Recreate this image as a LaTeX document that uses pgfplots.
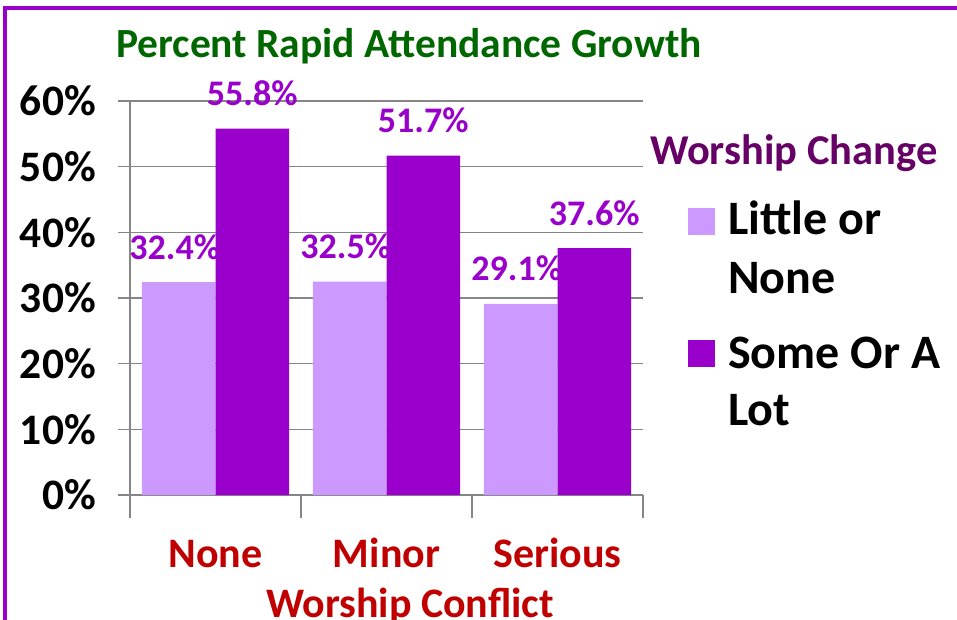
\documentclass[border=0pt]{standalone}
\usepackage{fontspec}
\setmainfont{Carlito}
\usepackage{pgfplots}
\pgfplotsset{compat=1.18}
\definecolor{lightbar}{RGB}{204,153,255}
\definecolor{darkbar}{RGB}{153,0,204}
\definecolor{titlegreen}{RGB}{0,102,0}
\definecolor{catred}{RGB}{192,0,0}
\definecolor{legpurple}{RGB}{102,0,102}
\definecolor{axisgray}{RGB}{134,134,134}

\begin{document}
\begin{tikzpicture}[x=1pt,y=1pt]
\useasboundingbox (0,0) rectangle (957,619);
% frame, cut off at right and bottom
\draw[darkbar, line width=4pt] (5,-10) -- (5,611) -- (975,611);
\node[anchor=base, inner sep=0, font=\fontsize{41.5}{48}\selectfont\bfseries, text=titlegreen]
  at (409,561) {Percent Rapid Attendance Growth};

\begin{axis}[
    at={(130pt,124pt)}, anchor=south west,
    scale only axis, width=513pt, height=394pt,
    xmin=0, xmax=3, ymin=0, ymax=60,
    ybar, bar width=0.43,
    clip=false,
    xtick={0.5,1.5,2.5},
    xticklabels={None,Minor,Serious},
    minor xtick={0,1,2,3},
    major x tick style={draw=none},
    ytick={0,10,...,60},
    yticklabel={\pgfmathprintnumber{\tick}\%},
    /pgf/number format/assume math mode=true,
    ymajorgrids,
    grid style={axisgray, line width=1.5pt},
    axis lines*=left,
    axis line style={axisgray, line width=1.5pt},
    tick style={axisgray, line width=1.5pt},
    tick align=outside,
    major tick length=12pt,
    minor tick length=23pt,
    yticklabel style={font=\fontsize{43.5}{50}\selectfont\bfseries, inner sep=0pt, anchor=east, xshift=-22pt},
    xticklabel style={font=\fontsize{42}{50}\selectfont\bfseries, text=catred, inner sep=0pt, anchor=base, yshift=-60pt},
    nodes near coords={\pgfmathprintnumber[fixed,fixed zerofill,precision=1]{\pgfplotspointmeta}\%},
    every node near coord/.append style={font=\fontsize{36}{42}\selectfont\bfseries, text=darkbar, inner sep=0pt, anchor=base, yshift=23pt},
]
\addplot[fill=lightbar, draw=none, bar shift=-0.215,
    every node near coord/.append style={xshift=-4pt}]
    coordinates {(0.5,32.4) (1.5,32.5) (2.5,29.1)};
\addplot[fill=darkbar, draw=none, bar shift=0.215]
    coordinates {(0.5,55.8) (1.5,51.7) (2.5,37.6)};
\end{axis}

\node[anchor=base, inner sep=0, font=\fontsize{42}{50}\selectfont\bfseries, text=catred]
  at (410,2) {Worship Conflict};

% legend
\node[anchor=base west, inner sep=0, font=\fontsize{42.5}{48}\selectfont\bfseries, text=legpurple]
  at (650,454) {Worship Change};
\fill[lightbar] (688,384) rectangle (715,411);
\node[anchor=base west, inner sep=0, font=\fontsize{48}{54}\selectfont\bfseries] at (728,384) {Little or};
\node[anchor=base west, inner sep=0, font=\fontsize{48}{54}\selectfont\bfseries] at (728,326) {None};
\fill[darkbar] (688,252) rectangle (715,279);
\node[anchor=base west, inner sep=0, font=\fontsize{48}{54}\selectfont\bfseries] at (728,251) {Some Or A};
\node[anchor=base west, inner sep=0, font=\fontsize{48}{54}\selectfont\bfseries] at (728,194) {Lot};
\end{tikzpicture}
\end{document}
